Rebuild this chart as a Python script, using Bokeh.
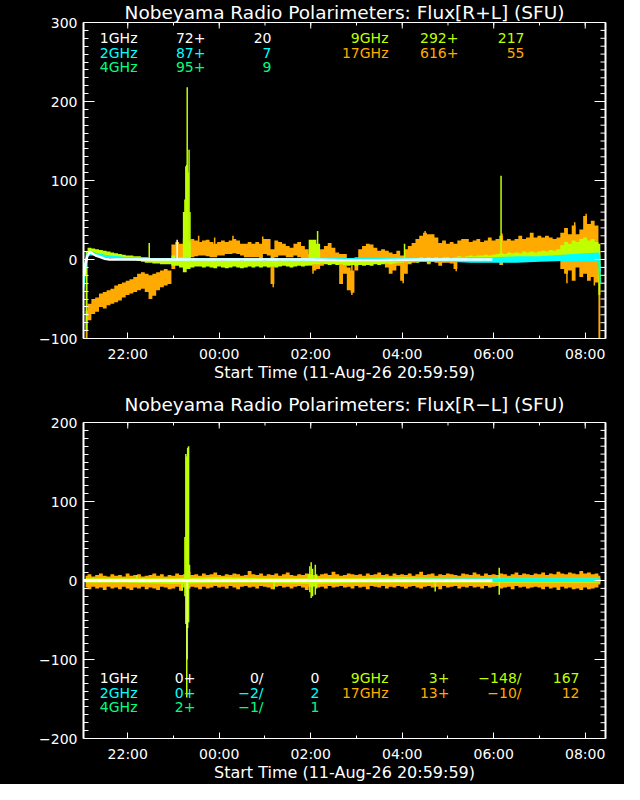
import numpy as np
from bokeh.plotting import figure
from bokeh.models import Range1d, FixedTicker, Label, ColumnDataSource
from bokeh.layouts import column
from bokeh.embed import file_html
from bokeh.resources import INLINE

# ---------------- data (hours after 00:00 of 11-Aug; >24 = next day) ----------------
title_top = "Nobeyama Radio Polarimeters: Flux[R+L] (SFU)"
title_bot = "Nobeyama Radio Polarimeters: Flux[R\u2212L] (SFU)"
x_label = "Start Time (11-Aug-26 20:59:59)"
tick_hours = [22, 24, 26, 28, 30, 32]
tick_labels = ["22:00", "00:00", "02:00", "04:00", "06:00", "08:00"]
minor_hours = [22, 23, 24, 25, 26, 27, 28, 29, 30, 31, 32]

# 5-minute sampling grid for the noisy bands
grid_start = 21.08
grid_n = 136

# 17 GHz R+L envelope
o_lo = [-100, -77, -69, -66, -60, -62, -58, -56, -54, -52, -48,
        -45, -43, -41, -39, -37, -41, -50, -46, -39, -35, -33, -31,
        -12, 3, 1, 3, 3, 3, 4, 5, 5, 4, 3, 3,
        5, 5, 7, 7, 8, 7, 5, 3, 3, 3, 3, 2,
        7, 5, -31, 3, 5, 5, 3, 3, 5, 3, 1, -1,
        -8, -14, -12, -8, -4, -6, -4, -6, -31, -18, -39, -42,
        -14, -1, -1, 0, -1, -2, -4, -2, -10, -18, -14, -8,
        -27, -18, -6, -4, -2, -2, -2, -6, -2, -4, -8, -4,
        -4, -5, -12, -1, -2, -1, -1, 1, -1, 1, 1, -1,
        1, 1, -7, -1, 1, 1, 2, 1, 2, -1, 1, -1,
        -2, 1, -1, 1, -1, -2, -12, -18, -14, -27, -10, -22,
        -18, -27, -22, -29, -100]
o_hi = [-65, -56, -50, -48, -43, -41, -39, -37, -33, -31, -29,
        -27, -25, -22, -18, -16, -18, -20, -18, -16, -14, -12, -14,
        19, 22, 20, 26, 24, 26, 24, 22, 24, 25, 22, 20,
        22, 24, 22, 24, 26, 24, 20, 20, 22, 20, 22, 20,
        26, 26, 13, 24, 22, 20, 17, 15, 20, 22, 17, 13,
        7, 9, 11, 13, 17, 21, 15, 9, 7, 7, -10, -14,
        3, 13, 17, 20, 19, 15, 11, 13, 11, 9, 7, 11,
        5, 13, 17, 21, 26, 30, 34, 32, 32, 28, 21, 24,
        20, 22, 20, 24, 26, 26, 22, 24, 26, 22, 24, 28,
        24, 26, 30, 24, 26, 24, 26, 30, 26, 28, 34, 28,
        30, 28, 30, 28, 26, 28, 34, 40, 32, 43, 32, 38,
        55, 45, 49, 43, 10]

# 9 GHz R+L envelope
g9_lo = [-90, 6, 7, 6, 6, 5, 4, 4, 3, 3, 2,
         1, -1, -1, -2, -3, -4, -4, -5, -5, -6, -6, -6,
         -8, -8, -10, -16, -12, -10, -9, -9, -10, -9, -10, -11,
         -9, -10, -11, -10, -9, -10, -11, -10, -9, -10, -9, -10,
         -9, -10, -9, -10, -9, -8, -9, -10, -9, -8, -9, -8,
         -7, -6, -6, -5, -6, -7, -6, -7, -6, -7, -8, -7,
         -8, -7, -8, -7, -8, -6, -7, -6, -5, -6, -5, -4,
         -4, -3, -4, -3, -4, -3, -3, -4, -3, -3, -2, -3,
         -2, -3, -2, -2, -1, -2, -1, 0, -1, 0, -1, 0,
         1, 0, 1, 1, 1, 2, 1, 2, 1, 2, 2, 1,
         2, 2, 2, 3, 2, 3, 3, 4, 3, 4, 3, 4,
         4, 5, 4, 3, -45]
g9_hi = [10, 15, 14, 13, 12, 11, 10, 9, 8, 7, 6,
         5, 5, 4, 4, 3, 3, 2, 2, 1, 1, 1, 1,
         5, 3, 3, 60, 20, 1, -1, -1, -1, 0, -1, -1,
         -1, -2, -1, -1, 0, -1, -2, -1, -1, 0, -1, -1,
         -2, -1, -2, -1, -2, -1, -2, -1, -1, -1, -2, -1,
         25, 25, 20, -1, -1, -2, -1, -1, -1, -1, -2, -1,
         -1, 0, -1, 0, -1, 0, 1, 0, 1, 0, 1, 1,
         2, 1, 2, 2, 1, 3, 2, 3, 2, 3, 2, 3,
         3, 2, 3, 4, 3, 4, 5, 4, 5, 5, 6, 5,
         6, 7, 8, 7, 9, 8, 9, 8, 10, 9, 10, 9,
         10, 11, 10, 12, 11, 13, 18, 22, 20, 24, 22, 26,
         28, 24, 26, 22, 20]

# 9 GHz R+L narrow spikes
g9_spike_t = [22.47, 23.25, 23.27, 23.29, 23.30, 23.32, 23.34, 23.36, 26.15, 28.05, 30.16]
g9_spike_v = [21, 76, 118, 120, 218, 110, 139, 60, 36, 20, 106]

# 17 GHz R+L narrow noise excursions beyond the envelope
o_spike_t = [23.55, 23.9, 24.3, 24.95, 25.18, 26.05, 26.9, 28.02, 28.5, 29.18, 30.18, 31.6, 31.77,
             32.02, 32.2]
o_spike_v = [30, 28, 30, 29, -35, -18, -45, -30, 36, -15, 33, -30, 47, 58, -33]

# 4 GHz R+L
g4_t = [21.03, 21.07, 21.12, 21.18, 21.30, 21.50, 21.80, 22.20, 23.00, 26.00, 29.00, 32.30, 32.33]
g4_v = [-30, -5, 8, 10, 7, 4, 2, 1, 0, 0, 0, 1, -30]

# 2 GHz R+L envelope
c2_t = [21.03, 21.07, 21.12, 21.17, 21.25, 21.40, 21.60, 21.80, 22.00, 22.50, 23.00, 23.50,
        24.00, 25.00, 26.00, 26.50, 27.00, 28.00, 29.00, 29.50, 30.00, 30.50, 31.00,
        31.50, 32.00, 32.30, 32.33]
c2_lo = [-42, -20, 3, 5, 5, 3, 2, 1, 0, 0, -1, -1, -1, -1, -2, -2, -3, -3, -3, -4, -4, -4, -3,
         -2, -2, -2, -35]
c2_hi = [-38, -10, 6, 9, 8, 7, 5, 4, 3, 2, 2, 2, 2, 2, 2, 2, 2, 2, 2, 3, 3, 4, 4,
         6, 8, 9, 5]

# 1 GHz R+L
w1_t = [21.05, 21.08, 21.12, 21.17, 21.22, 21.30, 21.40, 21.50, 21.60, 22.00, 23.00, 24.00,
        25.00, 26.00, 26.70, 27.50, 28.50, 29.97]
w1_v = [-20, -5, 5, 10, 8, 5, 3, 1, 0, 0, 0, 0, 0, 0, -1, -1, 0, 0]
w1_spike_t = [23.08]
w1_spike_v = [25]

# 17 GHz R-L envelope
orl_hi = [6, 8, 5, 7, 9, 6, 5, 8, 6, 7, 5, 9, 6, 7, 8, 5, 6,
          7, 9, 6, 8, 5, 7, 6, 9, 7, 8, 11, 7, 8, 6, 9, 7, 8,
          10, 7, 6, 8, 7, 9, 8, 6, 7, 12, 8, 7, 9, 6, 8, 7, 9,
          6, 8, 10, 7, 6, 8, 7, 9, 8, 7, 6, 8, 9, 7, 11, 8, 6,
          7, 9, 8, 7, 8, 6, 9, 7, 8, 10, 7, 8, 6, 9, 7, 8, 7,
          9, 6, 8, 11, 7, 8, 9, 6, 8, 7, 9, 8, 7, 6, 9, 8, 7,
          10, 8, 6, 9, 7, 8, 7, 9, 8, 6, 8, 10, 7, 9, 8, 7, 9,
          8, 10, 7, 9, 8, 11, 9, 8, 10, 9, 8, 12, 9, 10, 8, 9, 6]
orl_lo = [-9, -11, -8, -10, -9, -12, -8, -10, -9, -11, -8, -10, -12, -9, -10, -8, -11,
          -9, -10, -12, -8, -9, -11, -10, -8, -13, -9, -10, -8, -9, -11, -8, -10, -9,
          -7, -9, -8, -10, -7, -9, -11, -8, -7, -9, -8, -10, -7, -8, -9, -11, -8,
          -7, -9, -8, -10, -8, -7, -9, -12, -8, -7, -9, -8, -10, -7, -9, -8, -7,
          -9, -8, -10, -7, -9, -8, -11, -7, -8, -9, -7, -10, -8, -9, -7, -8, -10,
          -8, -7, -9, -10, -8, -7, -9, -8, -11, -7, -9, -8, -7, -10, -8, -9, -7,
          -9, -8, -10, -7, -9, -8, -7, -10, -9, -8, -11, -7, -9, -8, -10, -9, -8,
          -9, -11, -8, -10, -9, -12, -8, -10, -9, -11, -10, -12, -9, -11, -10, -9, -5]

# 9 GHz R-L
rl9_t = [21.08, 22.0, 23.0, 24.0, 25.0, 26.0, 27.0, 28.0, 29.0, 30.0, 31.0, 32.33]
rl9_lo = [-3, -3, -4, -3, -3, -4, -3, -3, -3, -3, -3, -3]
rl9_hi = [3, 3, 3, 4, 3, 3, 3, 4, 3, 3, 3, 3]
rl9_spike_t = [22.20, 23.19, 23.25, 23.25, 23.27, 23.27, 23.29, 23.29, 23.31, 23.31, 23.33, 23.33,
               23.35, 25.20, 25.95, 25.98, 25.98, 26.01, 26.01, 26.04, 26.04, 26.07, 26.10, 26.10,
               26.13, 26.13, 28.72, 30.12, 30.12]
rl9_spike_v = [7, -13, 55, -20, 160, -55, 157, -148, 168, -60, 170, -53, 20, -11, 8, 18, -15, 23,
               -22, 15, -20, -8, 20, -18, 8, -10, -14, 16, -18]

# 2 GHz / 4 GHz / 1 GHz R-L
rl2_t = [21.03, 24.0, 27.0, 30.0, 32.33]
rl2_lo = [-2, -2, -2, -2, -2]
rl2_hi = [2, 2, 2, 3, 3]
rl4_t = [21.05, 24.0, 27.0, 30.0, 32.30]
rl4_v = [1, 1, 1, 1, 1]
rl1_t = [21.05, 24.0, 27.0, 29.97]
rl1_v = [0, 0, 0, 0]
rl1_spike_t = [23.30]
rl1_spike_v = [-100]

# legends
leg_top_left = [["1GHz", "72+", "20"], ["2GHz", "87+", "7"], ["4GHz", "95+", "9"]]
leg_top_right = [["9GHz", "292+", "217"], ["17GHz", "616+", "55"]]
leg_bot_left = [["1GHz", "0+", "0/", "0"], ["2GHz", "0+", "\u22122/", "2"], ["4GHz", "2+", "\u22121/", "1"]]
leg_bot_right = [["9GHz", "3+", "\u2212148/", "167"], ["17GHz", "13+", "\u221210/", "12"]]

# ---------------- styling ----------------
C1, C2, C4, C9, C17 = "#ffffff", "#00ffff", "#00ff80", "#bfff00", "#ffaa00"
FONT = "DejaVu Sans"
X0, X1 = 21.033, 32.443
FR_L, FR_W, FR_H = 91.0, 522.0, 316.0
PX_PER_H = FR_W / (X1 - X0)
PX_PER_UNIT = 0.79

grid_t = grid_start + np.arange(grid_n) * (5.0 / 60.0)


def px2x(px):
    return X0 + (px - FR_L) / PX_PER_H


def make_fig(height, head, ylo, yhi, yticks, ylabels):
    # the drawing area extends `head` px above the axes box to hold the title
    ytop = yhi + head / PX_PER_UNIT
    p = figure(width=624, height=height, output_backend="svg", toolbar_location=None,
               title=None, x_range=Range1d(X0, X1), y_range=Range1d(ylo, ytop),
               min_border_left=83, min_border_right=19, min_border_top=0,
               min_border_bottom=height - head - int(FR_H))
    p.background_fill_color = "black"
    p.border_fill_color = "black"
    p.outline_line_color = None
    p.xgrid.visible = False
    p.ygrid.visible = False
    yt = FixedTicker(ticks=yticks, minor_ticks=list(range(ylo, yhi + 1, 10)))
    xt = FixedTicker(ticks=tick_hours, minor_ticks=minor_hours)
    for ax in p.yaxis:
        ax.ticker = yt
        ax.major_label_overrides = dict(zip(yticks, ylabels))
        ax.major_tick_in = 11
        ax.minor_tick_in = 5
        ax.major_label_standoff = 6
        ax.axis_line_color = None
    for ax in p.xaxis:
        ax.ticker = xt
        ax.major_label_overrides = dict(zip(tick_hours, tick_labels))
        ax.axis_label = x_label
        ax.major_tick_in = 6
        ax.minor_tick_in = 3
        ax.major_label_standoff = 7
        ax.axis_label_standoff = -2
        ax.axis_line_color = "white"
    for ax in list(p.xaxis) + list(p.yaxis):
        ax.major_tick_line_color = "white"
        ax.minor_tick_line_color = "white"
        ax.major_label_text_color = "white"
        ax.major_label_text_font = FONT
        ax.major_label_text_font_size = "14px"
        ax.major_tick_out = 0
        ax.minor_tick_out = 0
        ax.axis_label_text_color = "white"
        ax.axis_label_text_font = FONT
        ax.axis_label_text_font_size = "16px"
        ax.axis_label_text_font_style = "normal"
    # box edges: left, right (2 px so one px stays inside the frame) and top
    edges = ColumnDataSource(dict(x0=[X0, X1, X0], y0=[ylo, ylo, yhi],
                                  x1=[X0, X1, X1], y1=[yhi, yhi, yhi], w=[2, 2, 1]))
    p.segment(x0="x0", y0="y0", x1="x1", y1="y1", line_width="w", source=edges,
              line_color="white", level="overlay")
    # inward ticks on the top and right edges (no labels there)
    top_major = ColumnDataSource(dict(x=tick_hours, y0=[yhi] * len(tick_hours),
                                      y1=[yhi - 6 / PX_PER_UNIT] * len(tick_hours)))
    top_minor = ColumnDataSource(dict(x=minor_hours, y0=[yhi] * len(minor_hours),
                                      y1=[yhi - 3 / PX_PER_UNIT] * len(minor_hours)))
    minors = list(range(ylo, yhi + 1, 10))
    r_major = ColumnDataSource(dict(y=yticks, x0=[X1] * len(yticks),
                                    x1=[X1 - 11 / PX_PER_H] * len(yticks)))
    r_minor = ColumnDataSource(dict(y=minors, x0=[X1] * len(minors),
                                    x1=[X1 - 5 / PX_PER_H] * len(minors)))
    for src in (top_major, top_minor):
        p.segment(x0="x", y0="y0", x1="x", y1="y1", source=src, line_color="white",
                  line_width=1, level="overlay")
    for src in (r_major, r_minor):
        p.segment(x0="x0", y0="y", x1="x1", y1="y", source=src, line_color="white",
                  line_width=1, level="overlay")
    return p


def add_text(p, x, y, text, color, size="14px", align="right", baseline="middle"):
    p.add_layout(Label(x=x, y=y, text=text, text_color=color, text_font=FONT,
                       text_font_size=size, text_align=align, text_baseline=baseline))


def spikes(p, t, v, color, width=1.5, alpha=1.0, base=None):
    b = [0] * len(t) if base is None else base
    src = ColumnDataSource(dict(x=t, y0=b, y1=v))
    p.segment(x0="x", y0="y0", x1="x", y1="y1", source=src, line_color=color,
              line_width=width, line_alpha=alpha)


# ---------------- top panel: R+L ----------------
# page: figure 8..400, axes box 30..346
p1 = make_fig(392, 22, -100, 300, [-100, 0, 100, 200, 300],
              ["\u2212100", "0", "100", "200", "300"])


def py_top(py):
    return 300 - (py - 30.0) / PX_PER_UNIT


p1.varea_step(x=grid_t, y1=o_lo, y2=o_hi, step_mode="center", fill_color=C17)
spikes(p1, o_spike_t, o_spike_v, C17, width=1.5,
       base=[10 if v > 0 else -5 for v in o_spike_v])
p1.varea_step(x=grid_t, y1=g9_lo, y2=g9_hi, step_mode="center", fill_color=C9)
spikes(p1, g9_spike_t, g9_spike_v, C9, width=1.5)
p1.line(g4_t, g4_v, line_color=C4, line_width=2)
p1.varea(x=c2_t, y1=c2_lo, y2=c2_hi, fill_color=C2)
p1.line(c2_t, [(a + b) / 2 for a, b in zip(c2_lo, c2_hi)], line_color=C2, line_width=1.5)
p1.line(w1_t, w1_v, line_color=C1, line_width=2.5)
spikes(p1, w1_spike_t, w1_spike_v, C1, width=1.5)

add_text(p1, px2x(352), py_top(19.5), title_top, "white", size="18.5px", align="center")

rows_top = [45, 60, 74.5]
row_col_left = [C1, C2, C4]
row_col_right = [C9, C17]
cols_tl = [145, 213, 279]
cols_tr = [396, 466, 532]
for r, items in enumerate(leg_top_left):
    for c, s in enumerate(items):
        add_text(p1, px2x(cols_tl[c]), py_top(rows_top[r]), s, row_col_left[r])
for r, items in enumerate(leg_top_right):
    for c, s in enumerate(items):
        add_text(p1, px2x(cols_tr[c]), py_top(rows_top[r]), s, row_col_right[r])

# ---------------- bottom panel: R-L ----------------
# page: figure 400..792, axes box 430..746
p2 = make_fig(392, 30, -200, 200, [-200, -100, 0, 100, 200],
              ["\u2212200", "\u2212100", "0", "100", "200"])


def py_bot(py):
    return 200 - (py - 430.0) / PX_PER_UNIT


p2.varea_step(x=grid_t, y1=orl_lo, y2=orl_hi, step_mode="center", fill_color=C17)
p2.varea(x=rl9_t, y1=rl9_lo, y2=rl9_hi, fill_color=C9)
spikes(p2, rl9_spike_t, rl9_spike_v, C9, width=1.5)
p2.line(rl4_t, rl4_v, line_color=C4, line_width=1.5)
p2.varea(x=rl2_t, y1=rl2_lo, y2=rl2_hi, fill_color=C2)
p2.line(rl1_t, rl1_v, line_color=C1, line_width=3)
spikes(p2, rl1_spike_t, rl1_spike_v, C1, width=1.2, alpha=0.8)

add_text(p2, px2x(352), py_bot(412), title_bot, "white", size="18.5px", align="center")

rows_bot = [685, 700, 714.5]
cols_bl = [145, 203, 271, 327]
cols_br = [396, 457, 529, 587]
for r, items in enumerate(leg_bot_left):
    for c, s in enumerate(items):
        add_text(p2, px2x(cols_bl[c]), py_bot(rows_bot[r]), s, row_col_left[r])
for r, items in enumerate(leg_bot_right):
    for c, s in enumerate(items):
        add_text(p2, px2x(cols_br[c]), py_bot(rows_bot[r]), s, row_col_right[r])

layout = column(p1, p2, spacing=0, styles={"background-color": "black"})
open("out.html", "w").write(file_html(layout, INLINE))
